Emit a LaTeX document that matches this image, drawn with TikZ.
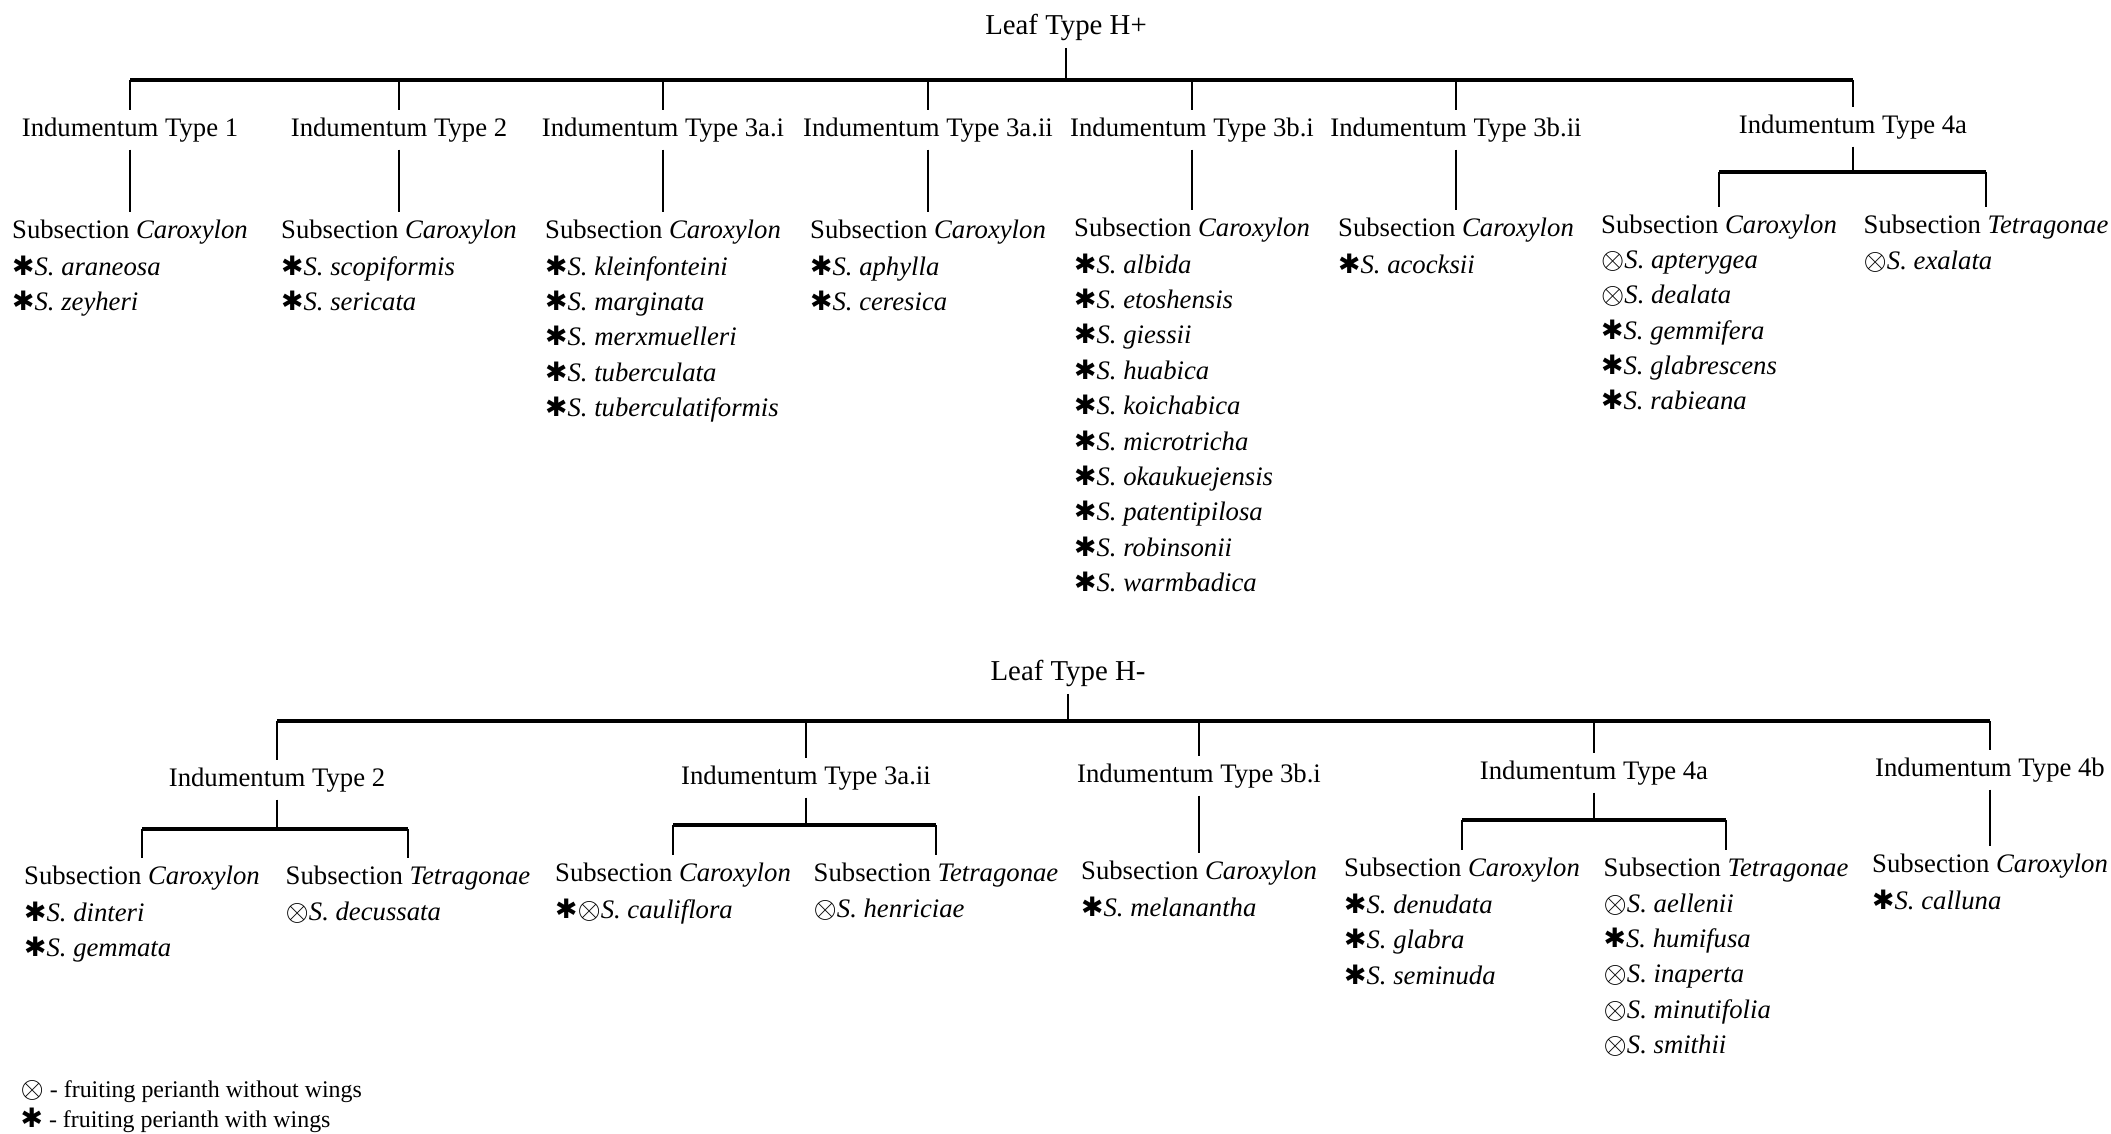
\documentclass[tikz,border=0pt]{standalone}
\usepackage{fontspec}
\setmainfont{Liberation Serif}
\newfontfamily\symfont{DejaVu Sans}
\usetikzlibrary{positioning}
\newcommand{\withwing}{{\symfont ✱}}
\newcommand{\nowing}{$\otimes$}
\newcommand{\spp}[1]{\textit{S. #1}}

\begin{document}
\begin{tikzpicture}[
    font=\fontsize{7.6}{10.07}\selectfont,
    leafnode/.style={inner sep=2pt, anchor=base, font=\fontsize{8.2}{10}\selectfont},
    indnode/.style={inner sep=2pt, anchor=base},
    subnode/.style={inner sep=2pt, anchor=base},
    sppnode/.style={inner xsep=2pt, inner ysep=0pt, align=left, anchor=north west},
    keynode/.style={inner sep=0pt, anchor=base west, font=\fontsize{6.8}{8}\selectfont},
    stem/.style={line width=0.55pt},
    bar/.style={line width=1pt}
  ]
    \path[use as bounding box, fill=white] (0,0) rectangle (21.11,-11.33);

    % leaf type H+
    \node[leafnode] (hp) at (10.66,-0.34) {Leaf Type H+};
    \coordinate (hpbar) at (0,-0.80);

    \node[indnode] (p1) at (1.30,-1.36) {Indumentum Type 1};
    \node[indnode] (p2) at (3.99,-1.36) {Indumentum Type 2};
    \node[indnode] (p3) at (6.63,-1.36) {Indumentum Type 3a.i};
    \node[indnode] (p4) at (9.28,-1.36) {Indumentum Type 3a.ii};
    \node[indnode] (p5) at (11.92,-1.36) {Indumentum Type 3b.i};
    \node[indnode] (p6) at (14.56,-1.36) {Indumentum Type 3b.ii};
    \node[indnode] (p7) at (18.53,-1.33) {Indumentum Type 4a};
    \coordinate (p7bar) at (0,-1.72);

    \node[subnode] (p1c) at (1.30,-2.38) {Subsection \textit{Caroxylon}};
    \node[subnode] (p2c) at (3.99,-2.38) {Subsection \textit{Caroxylon}};
    \node[subnode] (p3c) at (6.63,-2.38) {Subsection \textit{Caroxylon}};
    \node[subnode] (p4c) at (9.28,-2.38) {Subsection \textit{Caroxylon}};
    \node[subnode] (p5c) at (11.92,-2.36) {Subsection \textit{Caroxylon}};
    \node[subnode] (p6c) at (14.56,-2.36) {Subsection \textit{Caroxylon}};
    \node[subnode] (p7c) at (17.19,-2.33) {Subsection \textit{Caroxylon}};
    \node[subnode] (p7t) at (19.86,-2.33) {Subsection \textit{Tetragonae}};

    \node[sppnode] (p1s) at ([yshift=-1pt]p1c.south west) {\withwing\spp{araneosa}\\\withwing\spp{zeyheri}};
    \node[sppnode] (p2s) at ([yshift=-1pt]p2c.south west) {\withwing\spp{scopiformis}\\\withwing\spp{sericata}};
    \node[sppnode] (p3s) at ([yshift=-1pt]p3c.south west) {\withwing\spp{kleinfonteini}\\\withwing\spp{marginata}\\\withwing\spp{merxmuelleri}\\\withwing\spp{tuberculata}\\\withwing\spp{tuberculatiformis}};
    \node[sppnode] (p4s) at ([yshift=-1pt]p4c.south west) {\withwing\spp{aphylla}\\\withwing\spp{ceresica}};
    \node[sppnode] (p5s) at ([yshift=-1pt]p5c.south west) {\withwing\spp{albida}\\\withwing\spp{etoshensis}\\\withwing\spp{giessii}\\\withwing\spp{huabica}\\\withwing\spp{koichabica}\\\withwing\spp{microtricha}\\\withwing\spp{okaukuejensis}\\\withwing\spp{patentipilosa}\\\withwing\spp{robinsonii}\\\withwing\spp{warmbadica}};
    \node[sppnode] (p6s) at ([yshift=-1pt]p6c.south west) {\withwing\spp{acocksii}};
    \node[sppnode] (p7cs) at ([yshift=-1pt]p7c.south west) {\nowing\spp{apterygea}\\\nowing\spp{dealata}\\\withwing\spp{gemmifera}\\\withwing\spp{glabrescens}\\\withwing\spp{rabieana}};
    \node[sppnode] (p7ts) at ([yshift=-1pt]p7t.south west) {\nowing\spp{exalata}};

    \draw[stem] (hp) -- (hp |- hpbar);
    \draw[bar] (p1 |- hpbar) -- (p7 |- hpbar);
    \foreach \n in {p1,p2,p3,p4,p5,p6,p7}
      \draw[stem] (\n |- hpbar) -- (\n);
    \foreach \n in {p1,p2,p3,p4,p5,p6}
      \draw[stem] (\n) -- (\n c);
    \draw[stem] (p7) -- (p7 |- p7bar);
    \draw[bar] (p7c |- p7bar) -- (p7t |- p7bar);
    \draw[stem] (p7c |- p7bar) -- (p7c);
    \draw[stem] (p7t |- p7bar) -- (p7t);

    % leaf type H-
    \node[leafnode] (hm) at (10.68,-6.80) {Leaf Type H-};
    \coordinate (hmbar) at (0,-7.21);

    \node[indnode] (m1) at (2.77,-7.86) {Indumentum Type 2};
    \node[indnode] (m2) at (8.06,-7.84) {Indumentum Type 3a.ii};
    \node[indnode] (m3) at (11.99,-7.82) {Indumentum Type 3b.i};
    \node[indnode] (m4) at (15.94,-7.79) {Indumentum Type 4a};
    \node[indnode] (m5) at (19.90,-7.76) {Indumentum Type 4b};
    \coordinate (m1bar) at (0,-8.29);
    \coordinate (m2bar) at (0,-8.25);
    \coordinate (m4bar) at (0,-8.20);

    \node[subnode] (m1c) at (1.42,-8.84) {Subsection \textit{Caroxylon}};
    \node[subnode] (m1t) at (4.08,-8.84) {Subsection \textit{Tetragonae}};
    \node[subnode] (m2c) at (6.73,-8.81) {Subsection \textit{Caroxylon}};
    \node[subnode] (m2t) at (9.36,-8.81) {Subsection \textit{Tetragonae}};
    \node[subnode] (m3c) at (11.99,-8.79) {Subsection \textit{Caroxylon}};
    \node[subnode] (m4c) at (14.62,-8.76) {Subsection \textit{Caroxylon}};
    \node[subnode] (m4t) at (17.26,-8.76) {Subsection \textit{Tetragonae}};
    \node[subnode] (m5c) at (19.90,-8.72) {Subsection \textit{Caroxylon}};

    \node[sppnode] (m1cs) at ([yshift=-1pt]m1c.south west) {\withwing\spp{dinteri}\\\withwing\spp{gemmata}};
    \node[sppnode] (m1ts) at ([yshift=-1pt]m1t.south west) {\nowing\spp{decussata}};
    \node[sppnode] (m2cs) at ([yshift=-1pt]m2c.south west) {\withwing\nowing\spp{cauliflora}};
    \node[sppnode] (m2ts) at ([yshift=-1pt]m2t.south west) {\nowing\spp{henriciae}};
    \node[sppnode] (m3cs) at ([yshift=-1pt]m3c.south west) {\withwing\spp{melanantha}};
    \node[sppnode] (m4cs) at ([yshift=-1pt]m4c.south west) {\withwing\spp{denudata}\\\withwing\spp{glabra}\\\withwing\spp{seminuda}};
    \node[sppnode] (m4ts) at ([yshift=-1pt]m4t.south west) {\nowing\spp{aellenii}\\\withwing\spp{humifusa}\\\nowing\spp{inaperta}\\\nowing\spp{minutifolia}\\\nowing\spp{smithii}};
    \node[sppnode] (m5cs) at ([yshift=-1pt]m5c.south west) {\withwing\spp{calluna}};

    \draw[stem] (hm) -- (hm |- hmbar);
    \draw[bar] (m1 |- hmbar) -- (m5 |- hmbar);
    \foreach \n in {m1,m2,m3,m4,m5}
      \draw[stem] (\n |- hmbar) -- (\n);
    \draw[stem] (m3) -- (m3c);
    \draw[stem] (m5) -- (m5c);
    \draw[stem] (m1) -- (m1 |- m1bar);
    \draw[bar] (m1c |- m1bar) -- (m1t |- m1bar);
    \draw[stem] (m1c |- m1bar) -- (m1c);
    \draw[stem] (m1t |- m1bar) -- (m1t);
    \draw[stem] (m2) -- (m2 |- m2bar);
    \draw[bar] (m2c |- m2bar) -- (m2t |- m2bar);
    \draw[stem] (m2c |- m2bar) -- (m2c);
    \draw[stem] (m2t |- m2bar) -- (m2t);
    \draw[stem] (m4) -- (m4 |- m4bar);
    \draw[bar] (m4c |- m4bar) -- (m4t |- m4bar);
    \draw[stem] (m4c |- m4bar) -- (m4c);
    \draw[stem] (m4t |- m4bar) -- (m4t);

    % key
    \node[keynode] (k1) at (0.20,-10.97) {{\fontsize{7.6}{9}\selectfont\nowing} - fruiting perianth without wings};
    \node[keynode] (k2) at (0.20,-11.27) {{\fontsize{7.6}{9}\selectfont\withwing} - fruiting perianth with wings};
  \end{tikzpicture}
\end{document}
